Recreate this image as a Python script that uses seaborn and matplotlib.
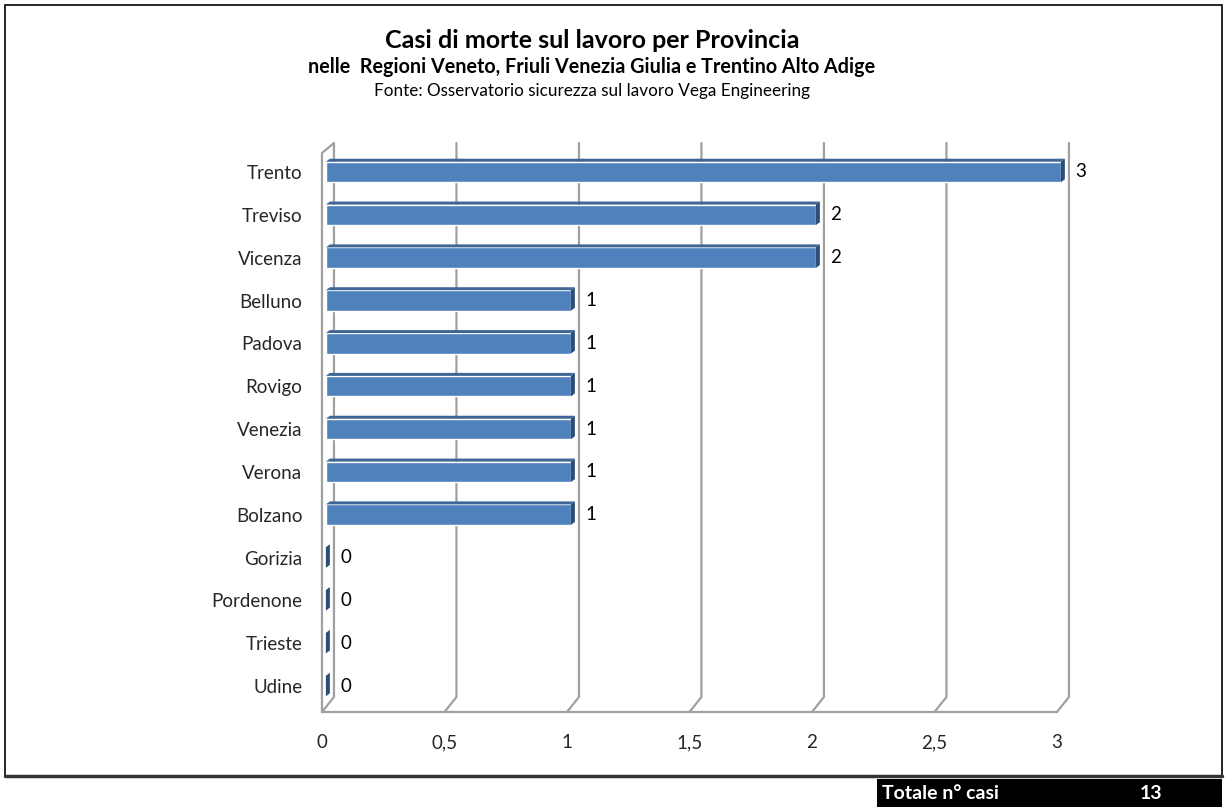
import numpy as np
import pandas as pd
import matplotlib
matplotlib.use('Agg')
import matplotlib.pyplot as plt
import seaborn as sns
from matplotlib.patches import Polygon, Rectangle

province = ['Trento', 'Treviso', 'Vicenza', 'Belluno', 'Padova', 'Rovigo', 'Venezia',
            'Verona', 'Bolzano', 'Gorizia', 'Pordenone', 'Trieste', 'Udine']
casi = [3, 2, 2, 1, 1, 1, 1, 1, 1, 0, 0, 0, 0]
xtick_valori = [0, 0.5, 1, 1.5, 2, 2.5, 3]
xtick_etichette = ['0', '0,5', '1', '1,5', '2', '2,5', '3']
totale = 13

df = pd.DataFrame({'Provincia': province, 'Casi': casi})

sns.set_style('white')
plt.rcParams['font.family'] = ['Lato', 'DejaVu Sans']

fig = plt.figure(figsize=(12.27, 8.07), dpi=100)
ax = fig.add_axes([0.2624, 0.1177, 0.599, 0.7051])

sns.barplot(data=df, x='Casi', y='Provincia', orient='h', color='#4F81BD',
            width=0.48, saturation=1, ax=ax, zorder=3)

grigio = '#A0A0A0'
y_top, y_floor = -0.677, 12.607
dx = 12 / 245.0      # profondita' della parete (unita' dati)
dy = 15 / 42.83      # profondita' verticale (categorie)

# parete di fondo e griglia
for xv in xtick_valori[1:]:
    ax.plot([xv + dx, xv + dx, xv], [y_top, y_floor - dy, y_floor],
            color=grigio, lw=1.6, zorder=1, clip_on=False)
# parete sinistra
ax.plot([0, 0, dx, dx, 0], [y_floor, y_top + 10 / 42.83, y_top, y_floor - dy, y_floor],
        color=grigio, lw=1.6, zorder=1, clip_on=False)
# pavimento
ax.plot([0, 3], [y_floor, y_floor], color=grigio, lw=1.6, zorder=1, clip_on=False)

# effetto 3D sulle barre
sx = 0.016
dd = 4 / 245.0
ddy = 3 / 42.83
for p in list(ax.patches):
    x, y, w, h = p.get_x(), p.get_y(), p.get_width(), p.get_height()
    p.set_x(x + sx)
    p.set_clip_on(False)
    x = x + sx
    top = Polygon([(x, y), (x + dd, y - ddy), (x + w + dd, y - ddy), (x + w, y)],
                  closed=True, facecolor='#3E6797', edgecolor='none', zorder=4, clip_on=False)
    side = Polygon([(x + w, y), (x + w + dd, y - ddy), (x + w + dd, y + h - ddy), (x + w, y + h)],
                   closed=True, facecolor='#2C4D75', edgecolor='none', zorder=4, clip_on=False)
    ax.add_patch(top)
    ax.add_patch(side)

for i, v in enumerate(casi):
    ax.annotate(str(v), xy=(v, i), xytext=(13, 0), textcoords='offset points',
                ha='left', va='center', fontsize=13.5, color='black')

ax.set_xlim(0, 3)
ax.set_ylim(y_floor, y_top)
ax.set_xticks(xtick_valori)
ax.set_xticklabels(xtick_etichette)
ax.set_xlabel('')
ax.set_ylabel('')
ax.tick_params(axis='x', length=4, width=1.5, color=grigio, pad=12, labelsize=13.5)
ax.tick_params(axis='y', length=0, pad=14, labelsize=13.5)
for s in ax.spines.values():
    s.set_visible(False)

fig.text(0.4825, 0.9504, 'Casi di morte sul lavoro per Provincia', ha='center', va='center',
         fontsize=18, fontweight='bold', color='black')
fig.text(0.4825, 0.917, 'nelle  Regioni Veneto, Friuli Venezia Giulia e Trentino Alto Adige',
         ha='center', va='center', fontsize=14.2, fontweight='bold', color='black')
fig.text(0.4825, 0.8875, 'Fonte: Osservatorio sicurezza sul lavoro Vega Engineering',
         ha='center', va='center', fontsize=12.3, color='black')

# cornice
fig.add_artist(Rectangle((5 / 1227, 1 - 776 / 807), 1217 / 1227, 771 / 807,
                         transform=fig.transFigure, fill=False, edgecolor='black', lw=1.2))
fig.add_artist(plt.Line2D([5 / 1227, 1222 / 1227], [1 - 776 / 807, 1 - 776 / 807],
                          transform=fig.transFigure, color='#333333', lw=2.5))
# box totale
fig.add_artist(Rectangle((877 / 1227, 0), 345 / 1227, 28 / 807,
                         transform=fig.transFigure, facecolor='black', edgecolor='none'))
fig.text(882 / 1227, 0.017, 'Totale n° casi', color='white', fontweight='bold',
         fontsize=14, ha='left', va='center')
fig.text(1140 / 1227, 0.017, str(totale), color='white', fontweight='bold',
         fontsize=14, ha='left', va='center')

fig.savefig('out.png', dpi=100)
